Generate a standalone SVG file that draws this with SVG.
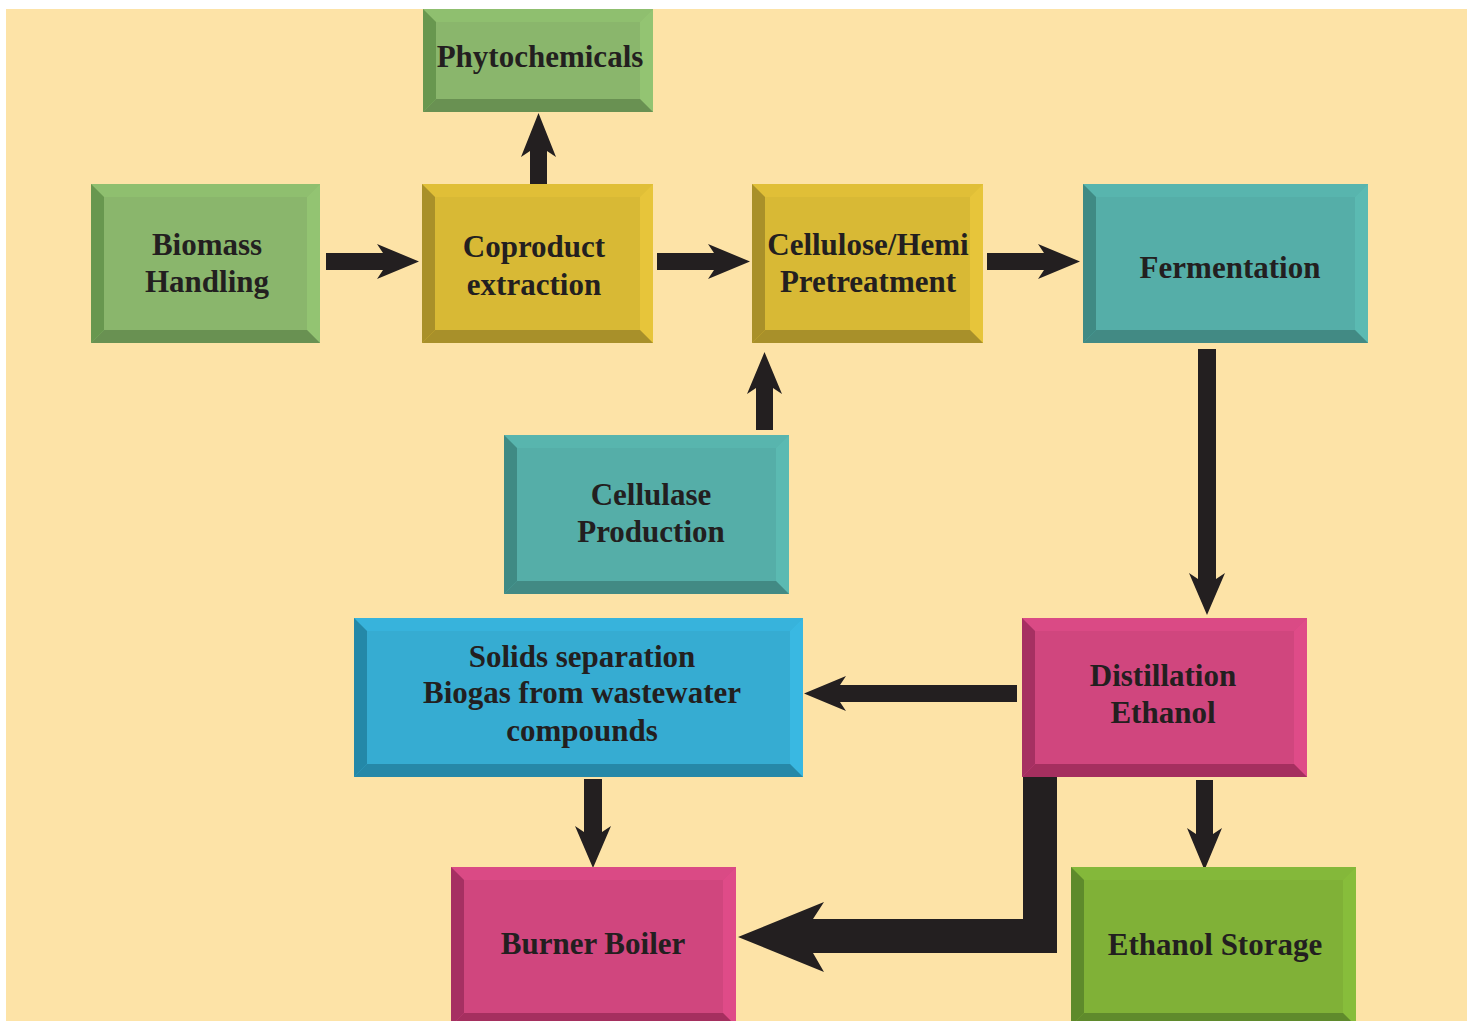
<svg xmlns="http://www.w3.org/2000/svg" width="1471" height="1021" viewBox="0 0 1471 1021">
<style>
.t{font-family:"Liberation Serif","Times New Roman",serif;font-weight:bold;font-size:31px;fill:#231f20;text-anchor:middle}
.ar{fill:#231f20}
.g .c{fill:#8ab66c}.g .tp{fill:#8fbf6f}.g .rt{fill:#93c472}.g .lf{fill:#68974f}.g .bt{fill:#699152}
.y .c{fill:#d8b935}.y .tp{fill:#e0bf37}.y .rt{fill:#e7c53a}.y .lf{fill:#a99029}.y .bt{fill:#a8902a}
.tl .c{fill:#55aea8}.tl .tp{fill:#58b5ae}.tl .rt{fill:#5bbab2}.tl .lf{fill:#3f8a84}.tl .bt{fill:#428a84}
.p .c{fill:#d0467e}.p .tp{fill:#da4a85}.p .rt{fill:#df4b88}.p .lf{fill:#a63062}.p .bt{fill:#a52f5f}
.b .c{fill:#36acd2}.b .tp{fill:#37b3dc}.b .rt{fill:#39b8e2}.b .lf{fill:#2488a8}.b .bt{fill:#2688a8}
.o .c{fill:#80b137}.o .tp{fill:#84b83a}.o .rt{fill:#87bd3b}.o .lf{fill:#5e8a2b}.o .bt{fill:#5f8a2c}
</style>
<rect x="0" y="0" width="1471" height="1021" fill="#ffffff"/>
<rect x="6" y="9" width="1461" height="1012" fill="#fde3a7"/>

<g id="connectors" class="ar">
<polygon points="326,253 383,253 377,244 419,261.5 377,279 383,270 326,270"/>
<polygon points="657,253 714,253 708,244 750,261.5 708,279 714,270 657,270"/>
<polygon points="987,253 1044,253 1038,244 1080,261.5 1038,279 1044,270 987,270"/>
<polygon points="530,185 530,151 521,157 538.5,113 556,157 547,151 547,185"/>
<polygon points="756,430 756,388 747,394 764.5,352 782,394 773,388 773,430"/>
<polygon points="1198,349 1198,579 1189,573 1207,615 1225,573 1216,579 1216,349"/>
<polygon points="584,779 584,832 575,826 593,868 611,826 602,832 602,779"/>
<polygon points="1196,780 1196,834 1187,828 1204.5,870 1222,828 1213,834 1213,780"/>
<polygon points="1017,685 840,685 846,676 804,693.5 846,711 840,702 1017,702"/>
<polygon points="1023,777 1057,777 1057,953 813,953 824,972 738,937 824,902 813,919 1023,919"/>
</g>

<g id="phytochemicals" class="g">
<rect class="c" x="423" y="9" width="230" height="103"/>
<polygon class="tp" points="423,9 653,9 640,22 436,22"/>
<polygon class="rt" points="653,9 653,112 640,99 640,22"/>
<polygon class="bt" points="423,112 653,112 640,99 436,99"/>
<polygon class="lf" points="423,9 436,22 436,99 423,112"/>
<text class="t" x="540" y="67">Phytochemicals</text>
</g>

<g id="biomass" class="g">
<rect class="c" x="91" y="184" width="229" height="159"/>
<polygon class="tp" points="91,184 320,184 307,197 104,197"/>
<polygon class="rt" points="320,184 320,343 307,330 307,197"/>
<polygon class="bt" points="91,343 320,343 307,330 104,330"/>
<polygon class="lf" points="91,184 104,197 104,330 91,343"/>
<text class="t" x="207" y="255">Biomass</text>
<text class="t" x="207" y="292">Handling</text>
</g>

<g id="coproduct" class="y">
<rect class="c" x="422" y="184" width="231" height="159"/>
<polygon class="tp" points="422,184 653,184 640,197 435,197"/>
<polygon class="rt" points="653,184 653,343 640,330 640,197"/>
<polygon class="bt" points="422,343 653,343 640,330 435,330"/>
<polygon class="lf" points="422,184 435,197 435,330 422,343"/>
<text class="t" x="534" y="257">Coproduct</text>
<text class="t" x="534" y="295">extraction</text>
</g>

<g id="pretreatment" class="y">
<rect class="c" x="752" y="184" width="231" height="159"/>
<polygon class="tp" points="752,184 983,184 970,197 765,197"/>
<polygon class="rt" points="983,184 983,343 970,330 970,197"/>
<polygon class="bt" points="752,343 983,343 970,330 765,330"/>
<polygon class="lf" points="752,184 765,197 765,330 752,343"/>
<text class="t" x="868" y="255">Cellulose/Hemi</text>
<text class="t" x="868" y="292">Pretreatment</text>
</g>

<g id="fermentation" class="tl">
<rect class="c" x="1083" y="184" width="285" height="159"/>
<polygon class="tp" points="1083,184 1368,184 1355,197 1096,197"/>
<polygon class="rt" points="1368,184 1368,343 1355,330 1355,197"/>
<polygon class="bt" points="1083,343 1368,343 1355,330 1096,330"/>
<polygon class="lf" points="1083,184 1096,197 1096,330 1083,343"/>
<text class="t" x="1230" y="278">Fermentation</text>
</g>

<g id="cellulase" class="tl">
<rect class="c" x="504" y="435" width="285" height="159"/>
<polygon class="tp" points="504,435 789,435 776,448 517,448"/>
<polygon class="rt" points="789,435 789,594 776,581 776,448"/>
<polygon class="bt" points="504,594 789,594 776,581 517,581"/>
<polygon class="lf" points="504,435 517,448 517,581 504,594"/>
<text class="t" x="651" y="505">Cellulase</text>
<text class="t" x="651" y="542">Production</text>
</g>

<g id="solids" class="b">
<rect class="c" x="354" y="618" width="449" height="159"/>
<polygon class="tp" points="354,618 803,618 790,631 367,631"/>
<polygon class="rt" points="803,618 803,777 790,764 790,631"/>
<polygon class="bt" points="354,777 803,777 790,764 367,764"/>
<polygon class="lf" points="354,618 367,631 367,764 354,777"/>
<text class="t" x="582" y="667">Solids separation</text>
<text class="t" x="582" y="703">Biogas from wastewater</text>
<text class="t" x="582" y="741">compounds</text>
</g>

<g id="distillation" class="p">
<rect class="c" x="1022" y="618" width="285" height="159"/>
<polygon class="tp" points="1022,618 1307,618 1294,631 1035,631"/>
<polygon class="rt" points="1307,618 1307,777 1294,764 1294,631"/>
<polygon class="bt" points="1022,777 1307,777 1294,764 1035,764"/>
<polygon class="lf" points="1022,618 1035,631 1035,764 1022,777"/>
<text class="t" x="1163" y="686">Distillation</text>
<text class="t" x="1163" y="723">Ethanol</text>
</g>

<g id="burner" class="p">
<rect class="c" x="451" y="867" width="285" height="159"/>
<polygon class="tp" points="451,867 736,867 723,880 464,880"/>
<polygon class="rt" points="736,867 736,1026 723,1013 723,880"/>
<polygon class="bt" points="451,1026 736,1026 723,1013 464,1013"/>
<polygon class="lf" points="451,867 464,880 464,1013 451,1026"/>
<text class="t" x="593" y="954">Burner Boiler</text>
</g>

<g id="storage" class="o">
<rect class="c" x="1071" y="867" width="285" height="159"/>
<polygon class="tp" points="1071,867 1356,867 1343,880 1084,880"/>
<polygon class="rt" points="1356,867 1356,1026 1343,1013 1343,880"/>
<polygon class="bt" points="1071,1026 1356,1026 1343,1013 1084,1013"/>
<polygon class="lf" points="1071,867 1084,880 1084,1013 1071,1026"/>
<text class="t" x="1215" y="955">Ethanol Storage</text>
</g>
</svg>
